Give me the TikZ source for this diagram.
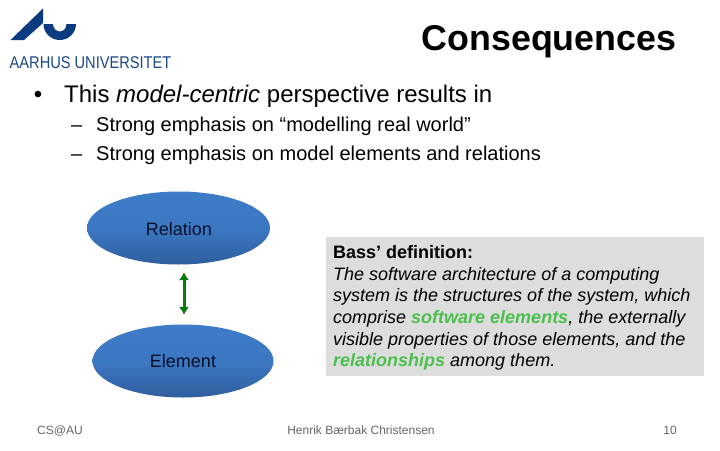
\documentclass[tikz,border=0pt]{standalone}
\usepackage{fontspec}
\setmainfont{Liberation Sans}
\usetikzlibrary{shapes.geometric,arrows.meta}
\definecolor{aublue}{HTML}{0A3A80}
\definecolor{logotxt}{HTML}{1A4888}
\definecolor{ballt}{HTML}{3E7CC8}
\definecolor{baldk}{HTML}{2F5E9E}
\definecolor{txtdk}{HTML}{050F28}
\definecolor{hlgreen}{HTML}{4CC04C}
\definecolor{arrowgreen}{HTML}{0A7A0A}
\definecolor{boxgrey}{HTML}{DDDDDD}
\tikzset{
  blob/.style={ellipse,minimum width=#1,minimum height=73,inner sep=0pt,top color=ballt,bottom color=baldk,middle color=ballt!85!baldk},
  plain/.style={anchor=base west,inner sep=0pt,font=\fontsize{24}{26}\selectfont},
  sub/.style={anchor=base west,inner sep=0pt,font=\fontsize{20}{22}\selectfont},
  foot/.style={anchor=base,inner sep=0pt,text=black!60,font=\fontsize{12}{14}\selectfont},
  blobtext/.style={anchor=base,inner sep=0pt,text=txtdk,font=\fontsize{18}{20}\selectfont},
}
\newcommand{\hl}[1]{\textcolor{hlgreen}{\textbf{#1}}}
\begin{document}
\begin{tikzpicture}[x=1pt,y=-1pt]
\useasboundingbox (0,0) rectangle (720,450);
\fill[white] (0,0) rectangle (720,450);
% logo
\fill[aublue] (10.5,40) -- (43,8.5) -- (43,23) -- (24,40) -- cycle;
\fill[aublue] (43.5,24) arc[start angle=180,end angle=360,x radius=16.25,y radius=-16] -- (66.5,24) arc[start angle=360,end angle=180,x radius=6.75,y radius=-7.5] -- cycle;
\node[anchor=base west,inner sep=0pt,text=logotxt,font=\fontsize{17}{18}\selectfont] (logo) at (9.5,68.5) {\scalebox{.86}[1]{AARHUS UNIVERSITET}};
% title and bullets
\node[anchor=base east,inner sep=0pt,font=\bfseries\fontsize{35.8}{38}\selectfont] (title) at (676.5,50) {Consequences};
\node[anchor=base,inner sep=0pt,font=\fontsize{24}{26}\selectfont] (bul) at (38,102) {•};
\node[plain] (b1) at (64,102) {This \textit{model-centric} perspective results in};
\node[sub] (d1) at (71,131) {–};
\node[sub] (s1) at (96,131) {Strong emphasis on “modelling real world”};
\node[sub] (d2) at (71,160) {–};
\node[sub] (s2) at (96,160) {Strong emphasis on model elements and relations};
% ellipses
\node[blob=183] (rel) at (178.5,228) {};
\node[blob=181] (ele) at (183,361) {};
\node[blobtext] (relt) at (179,235) {Relation};
\node[blobtext] (elet) at (183,367.5) {Element};
\coordinate (at) at (184,272);
\coordinate (ab) at (184,315);
\draw[arrowgreen,line width=3pt,{Latex[length=8pt,width=10pt]}-{Latex[length=8pt,width=10pt]}] (at) -- (ab);
% definition box
\fill[boxgrey] (326,237) rectangle (704,376);
\node[anchor=base west,inner sep=0pt,font=\bfseries\fontsize{18}{20}\selectfont] (q0) at (333,258) {Bass’ definition:};
\begin{scope}[every node/.style={anchor=base west,inner sep=0pt,font=\itshape\fontsize{18}{20}\selectfont}]
\node (q1) at (333,280) {The software architecture of a computing};
\node (q2) at (333,301.5) {system is the structures of the system, which};
\node (q3) at (333,323) {comprise \hl{software elements}, the externally};
\node (q4) at (333,345) {visible properties of those elements, and the};
\node (q5) at (333,366.5) {\hl{relationships} among them.};
\end{scope}
% footer
\node[foot] (f1) at (60,434) {CS@AU};
\node[foot] (f2) at (361,434) {Henrik Bærbak Christensen};
\node[foot] (f3) at (670,434) {10};
\end{tikzpicture}
\end{document}
